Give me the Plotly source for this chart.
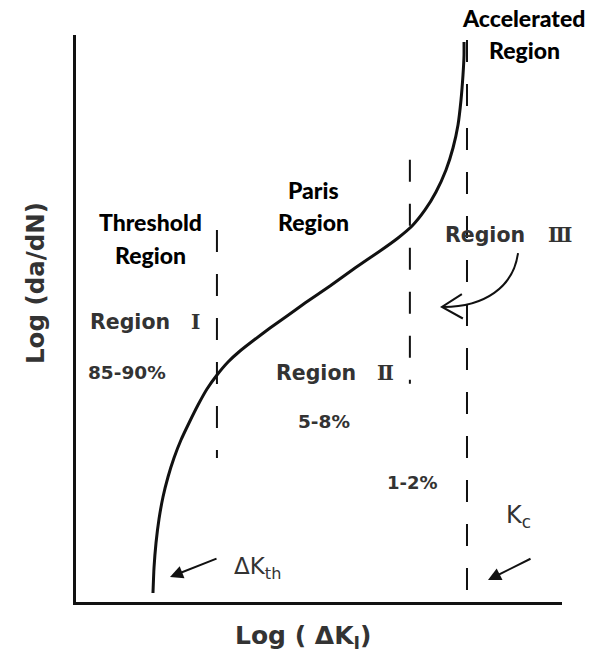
import plotly.graph_objects as go

# Schematic fatigue crack growth curve: log(da/dN) versus log(delta K)
log_dk = [1.584, 1.605, 1.646, 1.708, 1.790, 1.893, 2.016, 2.160, 2.325, 2.510,
          2.695, 2.901, 3.128, 3.374, 3.663, 3.992, 4.342, 4.712, 5.226, 5.741,
          6.255, 6.626, 6.914, 7.181, 7.407, 7.613, 7.757, 7.860, 7.922, 7.963,
          7.984, 7.984]
log_dadn = [0.159, 0.600, 1.041, 1.464, 1.852, 2.205, 2.540, 2.857, 3.157, 3.474,
            3.757, 4.004, 4.233, 4.427, 4.621, 4.832, 5.044, 5.273, 5.573, 5.891,
            6.190, 6.420, 6.631, 6.914, 7.231, 7.619, 8.007, 8.413, 8.854, 9.295,
            9.647, 9.877]

# Region boundaries (x position, dashed marker from y_low to y_high)
boundary_x = [2.90, 6.87, 8.045]
boundary_ylow = [2.54, 3.85, 0.0]
boundary_yhigh = [6.56, 7.80, 9.91]

# Share of fatigue life spent in each region
region_share = ["85-90%", "5-8%", "1-2%"]

BLACK = "#111111"
GREY = "#333333"
BOLD_FONT = "Lato Black, Lato Heavy, Lato"
SANS = "DejaVu Sans"

fig = go.Figure()

fig.add_trace(go.Scatter(
    x=log_dk, y=log_dadn, mode="lines",
    line=dict(color=BLACK, width=3, shape="spline", smoothing=0.5),
    hoverinfo="skip", showlegend=False))

for bx, lo, hi in zip(boundary_x, boundary_ylow, boundary_yhigh):
    fig.add_trace(go.Scatter(
        x=[bx, bx], y=[hi, lo], mode="lines",
        line=dict(color=BLACK, width=2, dash="22px,22px"),
        hoverinfo="skip", showlegend=False))

ann = []

def label(x, y, text, size, color, family, bold=False, ref="data",
          xanchor="center", **kw):
    t = f"<b>{text}</b>" if bold else text
    xr, yr = ("x", "y") if ref == "data" else ("paper", "paper")
    ann.append(dict(x=x, y=y, xref=xr, yref=yr, text=t, showarrow=False,
                    xanchor=xanchor, yanchor="middle",
                    font=dict(size=size, color=color, family=family), **kw))

# Bold region names
label(0.9218, 1.030, "Accelerated", 23, "#000", BOLD_FONT, True, ref="paper")
label(9.22, 9.735, "Region", 23, "#000", BOLD_FONT, True)
label(4.877, 7.266, "Paris", 23, "#000", BOLD_FONT, True)
label(4.877, 6.702, "Region", 23, "#000", BOLD_FONT, True)
label(1.523, 6.702, "Threshold", 23, "#000", BOLD_FONT, True)
label(1.523, 6.120, "Region", 23, "#000", BOLD_FONT, True)

# Region numbers
label(1.111, 4.938, "Region", 20.5, GREY, SANS, True)
label(2.449, 4.938, "Ⅰ", 20, GREY, "DejaVu Serif", True)
label(4.938, 4.039, "Region", 20.5, GREY, SANS, True)
label(6.358, 4.039, "Ⅱ", 20, GREY, "DejaVu Serif", True)
label(8.416, 6.473, "Region", 20.5, GREY, SANS, True)
label(9.959, 6.473, "Ⅲ", 20, GREY, "DejaVu Serif", True)

# Life fractions
label(1.049, 4.056, region_share[0], 18.5, GREY, SANS, True)
label(5.103, 3.175, region_share[1], 18.5, GREY, SANS, True)
label(6.914, 2.099, region_share[2], 18, GREY, SANS, True)

# Threshold and critical stress intensity
label(3.21, 0.600, "ΔK<sub>th</sub>", 23, GREY, SANS, False, xanchor="left")
label(8.80, 1.500, "K<sub>c</sub>", 24, GREY, SANS, False, xanchor="left")

# Axis titles
label(0.4691, -0.0617, "Log ( ΔK<sub>I</sub>)", 25, GREY, SANS, True, ref="paper")
label(-0.0844, 0.5626, "Log (da/dN)", 24.5, GREY, SANS, True, ref="paper",
      textangle=-90)

# Pointer arrows
for (hx, hy), (tx, ty) in [((1.934, 0.441), (2.922, 0.776)),
                           ((8.477, 0.388), (9.383, 0.776))]:
    ann.append(dict(x=hx, y=hy, ax=tx, ay=ty, xref="x", yref="y",
                    axref="x", ayref="y", text="", showarrow=True,
                    arrowhead=2, arrowsize=1.3, arrowwidth=2, arrowcolor=BLACK))

fig.update_layout(annotations=ann)

# Curved pointer from "Region III" towards the accelerated branch
fig.add_shape(type="path", xref="x", yref="y",
              path="M 9.095,6.155 C 9.0,5.55 8.4,5.2 7.55,5.203",
              line=dict(color=BLACK, width=2))
fig.add_shape(type="path", xref="x", yref="y",
              path="M 7.94,5.43 L 7.53,5.203 L 7.96,5.0",
              line=dict(color=BLACK, width=2))

fig.update_layout(
    width=603, height=654,
    margin=dict(l=76, r=41, t=35, b=52),
    paper_bgcolor="white", plot_bgcolor="white",
    xaxis=dict(range=[0, 10], showgrid=False, zeroline=False,
               showticklabels=False, ticks="", showline=True,
               linecolor=BLACK, linewidth=3),
    yaxis=dict(range=[0, 10], showgrid=False, zeroline=False,
               showticklabels=False, ticks="", showline=True,
               linecolor=BLACK, linewidth=3),
)

fig.write_html("out.html")
